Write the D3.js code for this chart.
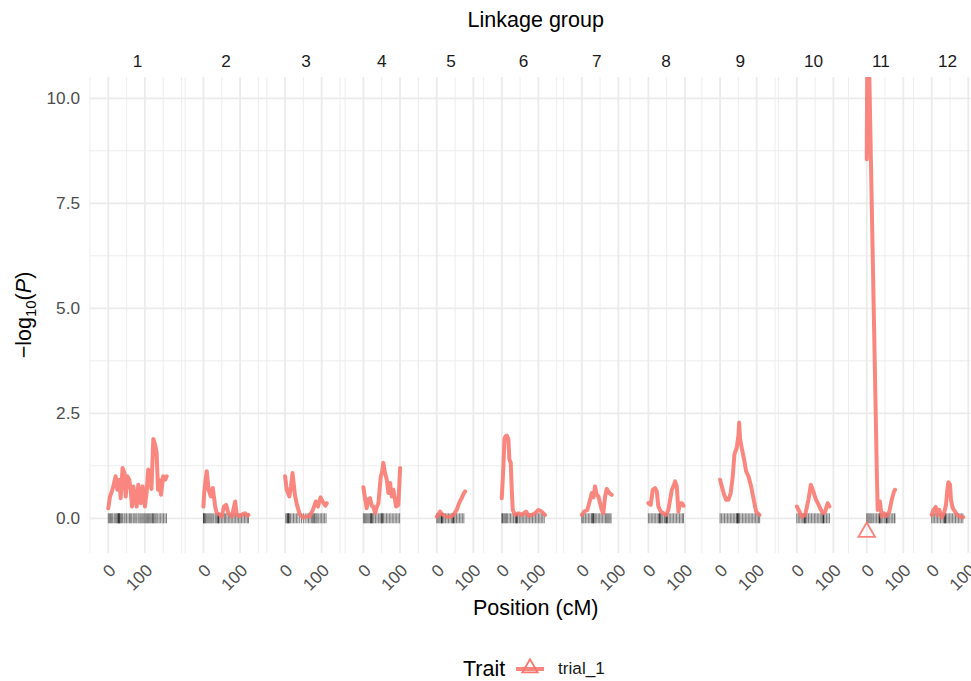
<!DOCTYPE html>
<html>
<head>
<meta charset="utf-8">
<script src="https://cdn.jsdelivr.net/npm/d3@7"></script>
<style>
  body { margin: 0; background: #fff; }
  svg { display: block; font-family: "Liberation Sans", Arial, sans-serif; }
</style>
</head>
<body>
<div id="chart"></div>
<script>
// linkage groups and their map length (cM)
const groups = ["1", "2", "3", "4", "5", "6", "7", "8", "9", "10", "11", "12"];
const groupLength = [160, 123, 114, 100.5, 77.6, 118.6, 82, 96, 109.6, 91, 77.6, 86];

// -log10(P) profiles, [position cM, value]
const lod1 = [[0,0.24],[4.6,0.52],[9,0.62],[13.7,0.76],[20,1.0],[24.6,0.68],[30,0.92],[33.9,0.48],[39,1.2],[44,1.08],[47.5,0.52],[52,1.0],[57.4,0.92],[61,0.68],[64.8,0.28],[68.4,0.76],[73,0.52],[77.6,0.28],[82,0.8],[88.5,0.36],[94,0.76],[100,0.28],[105,0.64],[109,1.16],[114,0.92],[118,0.7],[123,1.89],[128.4,1.73],[132,1.57],[135.8,0.68],[139,0.92],[144,0.56],[150,1.0],[155.7,0.92],[159.6,1.0]];
const lod2 = [[0,0.28],[2,0.6],[5,0.85],[9,1.12],[14,0.68],[20,0.52],[25.5,0.72],[32,0.28],[36.6,0.12],[43,0.1],[50,0.04],[56,0.28],[62,0.32],[68,0.12],[77.6,0.04],[86.6,0.4],[91,0.08],[100,0.05],[107,0.1],[114,0.12],[120,0.06],[123,0.08]];
const lod3 = [[0,1.0],[4.6,0.68],[11.8,0.52],[16,0.75],[20.4,1.08],[27,0.55],[33,0.3],[40,0.1],[49,0.02],[58,0.04],[67,0.05],[76,0.2],[84,0.4],[90,0.28],[97,0.5],[104,0.38],[110,0.3],[114,0.36]];
const lod4 = [[0,0.74],[4,0.5],[9,0.24],[13,0.45],[18,0.48],[23,0.3],[27,0.28],[32,0.12],[36,0.25],[41,0.36],[47.5,1.0],[51,1.1],[54.6,1.32],[59,1.08],[64,0.92],[68.3,0.6],[73,0.84],[77.6,0.52],[82,0.68],[89.3,0.28],[95.6,0.32],[100.3,1.2]];
const lod5 = [[0,0.04],[5,0.1],[9,0.16],[14,0.1],[18,0.08],[27,0.04],[36.6,0.03],[45.5,0.08],[54.6,0.2],[61,0.36],[68,0.48],[73,0.58],[77.6,0.64]];
const lod6 = [[0,0.48],[4.6,1.24],[7.3,1.89],[10,1.95],[13.7,1.97],[18,1.89],[20.8,1.4],[24.6,1.32],[27.3,0.68],[30,0.2],[36.4,0.08],[45.5,0.12],[54.6,0.08],[66.4,0.16],[72.8,0.06],[82,0.08],[91,0.12],[100,0.2],[109,0.16],[118,0.08]];
const lod7 = [[0,0.08],[6.4,0.16],[15.3,0.2],[22.7,0.44],[27.3,0.6],[32,0.5],[36.3,0.76],[41,0.56],[45.5,0.52],[50,0.36],[54.6,0.2],[59,0.12],[63.7,0.52],[68.3,0.7],[75.5,0.6],[82,0.56]];
const lod8 = [[0,0.36],[6.4,0.32],[12,0.68],[18.3,0.72],[23,0.64],[27.3,0.28],[34,0.16],[41,0.12],[48.4,0.08],[54.6,0.2],[59.3,0.44],[64,0.68],[68.3,0.76],[73,0.88],[77.6,0.76],[82,0.16],[86.6,0.36],[92,0.36],[96,0.3]];
const lod9 = [[0,0.92],[4.6,0.76],[11,0.56],[16.4,0.44],[22.7,0.44],[29,0.6],[34.6,1.0],[39,1.52],[45.5,1.68],[50,1.97],[52,2.28],[54.6,1.89],[59,1.68],[65.6,1.4],[71,1.12],[77.4,1.0],[84.7,0.76],[91,0.48],[98.4,0.16],[107.4,0.08]];
const lod10 = [[0,0.28],[7.3,0.16],[13.7,0.04],[22.7,0.08],[31.7,0.44],[38.3,0.8],[43.7,0.68],[48,0.56],[52.7,0.44],[57.4,0.36],[63.7,0.24],[71,0.12],[77.4,0.16],[84,0.36],[89,0.28]];
const lod11 = [[0,8.55],[1.5,11.2],[3,9.5],[5,11.5],[28,0.9],[30,0.2],[33,0.3],[36,0.4],[41,0.04],[47,0.12],[54.6,0.06],[61.7,0.16],[68.3,0.44],[74.6,0.64],[77.3,0.68]];
const lod12 = [[0,0.08],[4.5,0.2],[11,0.27],[15,0.08],[20.8,0.2],[27.3,0.02],[33.6,0.12],[39,0.32],[42.6,0.68],[45.5,0.86],[50,0.8],[52.7,0.44],[57.4,0.24],[63.7,0.16],[70,0.08],[77.3,0.04],[84.5,0.02],[86,0.03]];

// marker positions (cM) for the rug
const markers1 = [0,3,6,9,12,16,19,22,25,27,28,29,30,31,33,36,39,43,46,50,54,58,61,64,68,71,75,78,82,86,89,92,95,98,101,104,107,110,113,116,119,121,123,125,128,131,135,139,143,147,151,155,159];
const markers2 = [0,1,2,4,6,9,12,15,18,21,24,28,32,35,38,40,41,42,45,49,53,57,60,64,68,72,76,80,84,88,92,96,100,104,108,112,116,120,123];
const markers3 = [2,5,7,8,9,10,12,15,19,23,27,31,35,40,45,50,55,60,64,68,72,75,78,80,82,85,88,92,96,100,104,108,112];
const markers4 = [0,3,6,9,12,15,18,20,21,22,24,26,29,33,37,41,45,48,50,51,52,55,59,63,67,71,75,79,83,87,91,95,99];
const markers5 = [0,3,6,9,12,13,14,15,17,20,24,28,32,36,40,43,45,46,47,50,54,58,62,66,70,74];
const markers6 = [0,2,4,7,10,13,16,20,24,28,32,36,38,40,41,42,44,48,52,56,60,64,68,72,76,80,84,88,92,96,100,104,108,112,116];
const markers7 = [0,3,6,10,14,18,22,26,28,30,31,32,34,37,41,45,49,53,57,61,65,68,71,74,77,80];
const markers8 = [0,4,8,12,16,20,24,28,30,31,32,34,37,40,44,47,49,50,51,53,57,61,65,69,73,77,81,85,89,93,96];
const markers9 = [0,4,8,12,16,20,24,28,32,36,40,44,46,47,48,49,50,53,57,61,65,69,73,77,81,85,89,93,97,101,105,108];
const markers10 = [0,4,8,12,16,19,21,22,23,25,28,32,36,40,44,48,52,56,60,64,68,71,72,73,74,77,81,85,89];
const markers11 = [0,3,6,9,12,15,19,23,27,31,34,35,36,37,40,44,48,52,54,55,56,59,63,67,71,75,77];
const markers12 = [0,4,8,12,16,20,24,28,32,35,36,37,38,41,45,49,53,57,61,65,69,73,77,81,85];

const yTicks = [0, 2.5, 5, 7.5, 10];
const yMinor = [1.25, 3.75, 6.25, 8.75];
const xTicks = [0, 100];
const xMinor = [-50, 50, 150, 200];

// QTL peak marker
const peakGroup = "11";
const peakPos = 0;
const peakValue = -0.33;

const lodCurves = [lod1, lod2, lod3, lod4, lod5, lod6, lod7, lod8, lod9, lod10, lod11, lod12];
const markerSets = [markers1, markers2, markers3, markers4, markers5, markers6, markers7, markers8, markers9, markers10, markers11, markers12];

const W = 971, H = 681;
const panelTop = 77, panelBottom = 553;
const plotLeft = 90, plotRight = 981.5;
const pad = 50;
const lineColor = "#F8766D";
const gridColor = "#ebebeb";
const smallFont = 17.2, bigFont = 21.5;

const svg = d3.select("#chart").append("svg")
    .attr("width", W)
    .attr("height", H);

const y = d3.scaleLinear().domain([-0.826, 10.507]).range([panelBottom, panelTop]);

// free-space facets: width proportional to map length
const spans = groupLength.map(l => l + 2 * pad);
const pxPerCM = (plotRight - plotLeft) / d3.sum(spans);
let acc = plotLeft;
const panels = groups.map((g, i) => {
    const x0 = acc;
    acc += spans[i] * pxPerCM;
    const x = d3.scaleLinear().domain([-pad, groupLength[i] + pad]).range([x0, acc]);
    return { g, i, x, x0, x1: acc };
});

const defs = svg.append("defs");

panels.forEach(p => {
    const [lo, hi] = p.x.domain();
    const gp = svg.append("g");

    defs.append("clipPath").attr("id", "clip" + p.i)
        .append("rect")
        .attr("x", p.x0).attr("y", panelTop)
        .attr("width", p.x1 - p.x0).attr("height", panelBottom - panelTop);

    // grid
    gp.selectAll(".ymin").data(yMinor).join("line")
        .attr("x1", p.x0).attr("x2", p.x1)
        .attr("y1", d => y(d)).attr("y2", d => y(d))
        .attr("stroke", gridColor).attr("stroke-width", 0.9);
    gp.selectAll(".xmin").data(xMinor.filter(d => d >= lo && d <= hi)).join("line")
        .attr("x1", d => p.x(d)).attr("x2", d => p.x(d))
        .attr("y1", panelTop).attr("y2", panelBottom)
        .attr("stroke", gridColor).attr("stroke-width", 0.9);
    gp.selectAll(".ymaj").data(yTicks).join("line")
        .attr("x1", p.x0).attr("x2", p.x1)
        .attr("y1", d => y(d)).attr("y2", d => y(d))
        .attr("stroke", gridColor).attr("stroke-width", 1.8);
    gp.selectAll(".xmaj").data(xTicks.filter(d => d >= lo && d <= hi)).join("line")
        .attr("x1", d => p.x(d)).attr("x2", d => p.x(d))
        .attr("y1", panelTop).attr("y2", panelBottom)
        .attr("stroke", gridColor).attr("stroke-width", 1.8);

    // rug of markers
    gp.selectAll(".rug").data(markerSets[p.i]).join("line")
        .attr("x1", d => p.x(d)).attr("x2", d => p.x(d))
        .attr("y1", y(0) - 5).attr("y2", y(0) + 5)
        .attr("stroke", "#000").attr("stroke-opacity", 0.5).attr("stroke-width", 1);

    // profile
    const line = d3.line().x(d => p.x(d[0])).y(d => y(d[1]));
    gp.append("path")
        .attr("clip-path", `url(#clip${p.i})`)
        .attr("d", line(lodCurves[p.i]))
        .attr("fill", "none")
        .attr("stroke", lineColor)
        .attr("stroke-opacity", 0.88)
        .attr("stroke-width", 4)
        .attr("stroke-linejoin", "round")
        .attr("stroke-linecap", "round");

    if (p.g === peakGroup) {
        gp.append("path")
            .attr("d", d3.symbol(d3.symbolTriangle, 120)())
            .attr("transform", `translate(${p.x(peakPos)},${y(peakValue)})`)
            .attr("fill", "none")
            .attr("stroke", lineColor)
            .attr("stroke-opacity", 0.9)
            .attr("stroke-width", 1.8);
    }

    // strip label
    svg.append("text")
        .attr("x", (p.x0 + p.x1) / 2).attr("y", 66.5)
        .attr("text-anchor", "middle")
        .attr("font-size", smallFont).attr("fill", "#1a1a1a")
        .text(p.g);

    // x tick labels, rotated
    svg.selectAll(null).data(xTicks.filter(d => d >= lo && d <= hi)).join("text")
        .attr("text-anchor", "end")
        .attr("font-size", smallFont).attr("fill", "#4d4d4d")
        .attr("transform", d => `translate(${p.x(d) + 8.5},571.5) rotate(-45)`)
        .text(d => d);
});

// y axis labels
svg.selectAll(".ylab").data(yTicks).join("text")
    .attr("x", 80).attr("y", d => y(d)).attr("dy", "0.35em")
    .attr("text-anchor", "end")
    .attr("font-size", smallFont).attr("fill", "#4d4d4d")
    .text(d => d.toFixed(1));

const centerX = (plotLeft + plotRight) / 2;

svg.append("text")
    .attr("x", centerX).attr("y", 26.5)
    .attr("text-anchor", "middle").attr("font-size", bigFont)
    .text("Linkage group");

svg.append("text")
    .attr("x", centerX).attr("y", 615)
    .attr("text-anchor", "middle").attr("font-size", bigFont)
    .text("Position (cM)");

const yTitle = svg.append("text")
    .attr("transform", `translate(31,${(panelTop + panelBottom) / 2}) rotate(-90)`)
    .attr("text-anchor", "middle").attr("font-size", bigFont);
yTitle.append("tspan").text("\u2212log");
yTitle.append("tspan").attr("font-size", 15).attr("dy", 5).text("10");
yTitle.append("tspan").attr("dy", -5).text("(");
yTitle.append("tspan").attr("font-style", "italic").text("P");
yTitle.append("tspan").text(")");

// legend
const legend = svg.append("g");
legend.append("text").attr("x", 463).attr("y", 676).attr("font-size", bigFont).text("Trait");
legend.append("line")
    .attr("x1", 516).attr("x2", 544).attr("y1", 669).attr("y2", 669)
    .attr("stroke", lineColor).attr("stroke-opacity", 0.88).attr("stroke-width", 4);
legend.append("path")
    .attr("d", d3.symbol(d3.symbolTriangle, 100)())
    .attr("transform", "translate(530,668)")
    .attr("fill", "none").attr("stroke", lineColor).attr("stroke-width", 1.8);
legend.append("text").attr("x", 558).attr("y", 674).attr("font-size", smallFont).attr("fill", "#1a1a1a").text("trial_1");
</script>
</body>
</html>
